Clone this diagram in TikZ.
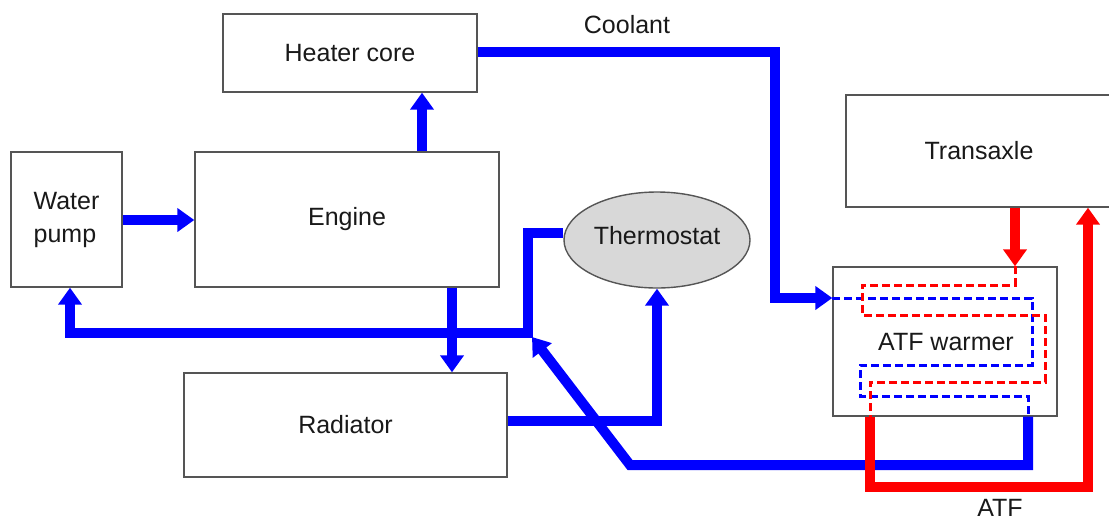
\documentclass[tikz,border=0pt]{standalone}
\usepackage{fontspec}
\setmainfont{Liberation Sans}
\usetikzlibrary{arrows.meta,shapes.geometric}
\definecolor{cblue}{RGB}{0,0,255}
\definecolor{cred}{RGB}{255,0,0}
\definecolor{boxline}{RGB}{85,85,85}
\definecolor{txt}{RGB}{25,25,25}
\definecolor{thermfill}{RGB}{216,216,216}
\tikzset{
  box/.style={draw=boxline, line width=1.4pt, fill=white, inner sep=0pt, text=txt,
    font=\fontsize{25}{33}\selectfont},
  lbl/.style={text=txt, font=\fontsize{25}{33}\selectfont, inner sep=0pt},
  pipe/.style={line width=10pt, line join=miter, line cap=butt},
  tip/.style={-{Triangle[length=17pt,width=23pt]}},
  dpipe/.style={line width=3pt, dash pattern=on 8pt off 4pt, line join=miter},
}
\begin{document}
\begin{tikzpicture}[x=1pt,y=-1pt]
\useasboundingbox (0,0) rectangle (1109,523);
\begin{scope}
\clip (0,0) rectangle (1109,523);
% nodes
\node[box, minimum width=254pt, minimum height=78pt] (heater) at (350,53) {Heater core};
\node[box, minimum width=111pt, minimum height=135pt, align=left] (pump) at (66.5,219.5) {Water\\pump};
\node[box, minimum width=304pt, minimum height=135pt] (engine) at (347,219.5) {Engine};
\node[box, ellipse, fill=thermfill, minimum width=186pt, minimum height=96pt] (thermo) at (657,240) {};
\node[lbl] (thermotxt) at (657,236) {Thermostat};
\node[box, minimum width=323pt, minimum height=104pt] (rad) at (345.5,425) {Radiator};
\node[box, minimum width=266pt, minimum height=112pt] (trans) at (979,151) {Transaxle};
\node[box, minimum width=224pt, minimum height=149pt] (atf) at (945,341.5) {};
\node[lbl] (atftxt) at (946,342) {ATF warmer};
\node[lbl] (coolant) at (627,25) {Coolant};
\node[lbl] (atflbl) at (1000,508) {ATF};

% blue connectors
\draw[pipe, cblue, tip] (pump.east |- 0,220) -- (engine.west |- 0,220);
\draw[pipe, cblue, tip] (422,0 |- engine.north) -- (422,0 |- heater.south);
\draw[pipe, cblue, tip] (heater.east |- 0,52) -- (775,52) -- (775,298) -- (atf.west |- 0,298);
\draw[pipe, cblue, tip] (452,0 |- engine.south) -- (452,0 |- rad.north);
\draw[pipe, cblue, tip] (thermo.west |- 0,233) -- (528,233) -- (528,333) -- (70,333) -- (70,0 |- pump.south);
\draw[pipe, cblue, tip] (rad.east |- 0,421) -- (657,421) -- (thermo.south);
\coordinate (junc) at (532,337);
\draw[pipe, cblue, tip] (1028,0 |- atf.south) -- (1028,465) -- (630,465) -- (junc);

% dashed inside warmer
\draw[dpipe, cblue] (atf.west |- 0,298) -- (1032,298) -- (1032,365) -- (860,365) -- (860,396) -- (1028,396) -- (1028,0 |- atf.south);
\draw[dpipe, cred] (1015,0 |- atf.north) -- (1015,285) -- (862,285) -- (862,315) -- (1045,315) -- (1045,382) -- (870,382) -- (870,0 |- atf.south);

% red connectors
\draw[pipe, cred, tip] (1015,0 |- trans.south) -- (1015,0 |- atf.north);
\draw[pipe, cred, tip] (870,0 |- atf.south) -- (870,487) -- (1088,487) -- (1088,0 |- trans.south);
\end{scope}
\end{tikzpicture}
\end{document}
